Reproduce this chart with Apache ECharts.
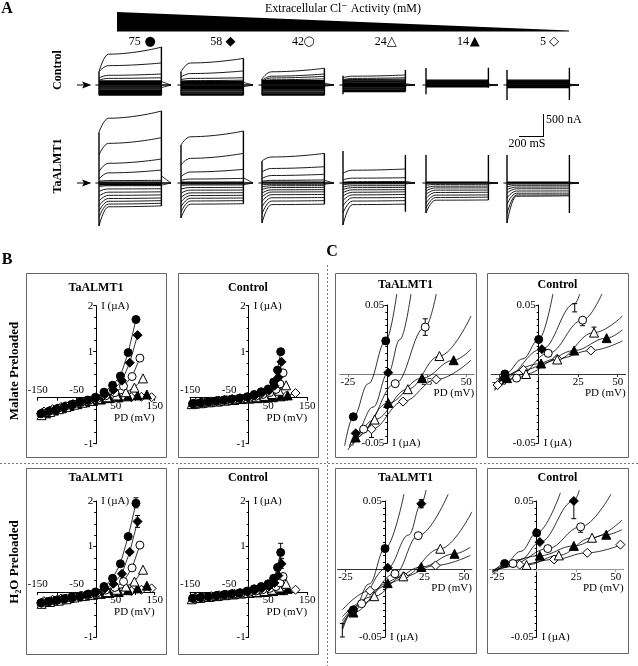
<!DOCTYPE html>
<html><head><meta charset="utf-8">
<script src="https://cdn.jsdelivr.net/npm/echarts@6/dist/echarts.min.js"></script>
<style>html,body{margin:0;padding:0;background:#fff}#c{width:638px;height:666px}</style>
</head><body><div id="c"></div>
<script>
// ================= DATA =================
// Panel A : extracellular Cl- activities and their symbols
const concLabels = ['75', '58', '42', '24', '14', '5'];
const concSymbols = ['●', '◆', '○', '△', '▲', '◇'];

// Panel A traces (nA). Triple = [value at 0 ms, at 80 ms, at end of pulse]; single number = flat trace.
const traceTimes = [0, 80, 520];
const pulseEnd = 520, tailEnd = 600, leadStart = -30;

const ctl75 = [[300,700,860],[300,440,500],[160,220,250],[110,150,165],95,75,55,35,15,-5,-25,-45,-70,-95,-120,-145,-170,-195,-215,-230];
const ctl58 = [[300,500,605],[180,260,320],[120,150,165],[85,100,110],80,60,40,20,0,-20,-40,-60,-85,-110,-135,-160,-185,-210,-230];
const ctl42 = [[136,300,380],[100,200,250],[80,160,197],[70,120,140],100,80,60,40,20,0,-20,-40,-60,-85,-110,-135,-160,-185,-210,-230];
const ctl24 = [[165,200,227],[120,150,165],[100,125,135],110,90,70,50,30,10,-10,-30,-50,-70,-90,-110,-130,-150];
const ctl14 = [110,95,80,65,50,35,20,5,-10,-25,-40];
const ctl5  = [110,95,80,65,50,35,20,5,-10,-25,-40,-60];

const ta75 = [[1150,1470,1634],[636,900,1030],[257,447,545],[90,230,295],[40,55,60],20,0,-20,-40,[-80,-62,-60],[-190,-135,-130],[-300,-208,-200],[-410,-280,-270],[-520,-352,-340],[-640,-415,-400],[-780,-478,-460],[-976,-540,-520]];
const ta58 = [[863,1050,1180],[409,560,673],[143,250,310],[60,90,106],20,0,-20,[-60,-45,-45],[-140,-102,-100],[-230,-162,-160],[-330,-224,-220],[-430,-285,-280],[-540,-346,-340],[-660,-408,-400],[-795,-480,-470]];
const ta42 = [[500,590,673],[250,330,370],[100,170,197],[40,60,70],20,0,[-40,-30,-30],[-90,-62,-60],[-150,-103,-100],[-230,-155,-150],[-320,-205,-200],[-420,-265,-260],[-540,-335,-330],[-700,-410,-400],[-908,-490,-480]];
const ta24 = [[220,290,318],[70,110,120],[20,30,35],10,-5,[-40,-22,-20],[-90,-62,-60],[-150,-105,-100],[-220,-155,-150],[-300,-210,-200],[-400,-270,-260],[-520,-335,-330],[-680,-410,-400],[-953,-490,-480]];
const ta14 = [20,10,0,[-50,-32,-30],[-110,-72,-70],[-180,-112,-110],[-260,-162,-160],[-350,-215,-210],[-460,-275,-270],[-570,-330,-320],[-680,-390,-385]];
const ta5  = [20,10,0,[-40,-22,-20],[-90,-52,-50],[-150,-92,-90],[-230,-132,-130],[-340,-182,-180],[-480,-232,-230],[-700,-272,-270],[-908,-300,-290]];

// capacitive spikes [start up, start down, end up, end down] and tail wedge [hi, lo] (nA)
const ctlSpikes = [[0,0,0,0],[0,0,0,0],[0,0,0,0],[210,-210,340,-150],[385,-210,390,-60],[340,-340,390,-340]];
const taSpikes  = [[0,0,0,0],[0,0,0,0],[0,0,0,0],[726,-953,636,-650],[636,-680,636,-300],[636,-908,636,-680]];
const ctlTails = [[80,-60],[60,-40],[40,-30],[30,-20],[20,-20],[20,-20]];
const taTails  = [[160,-50],[120,-40],[60,-30],[40,-20],[20,-20],[20,-20]];

// Panel B : PD (mV) per concentration, TaALMT1 and Control oocytes
const pdTa75 = [-142,-122,-102,-82,-62,-42,-22,-2,20,42,62,82,102];
const pdTa58 = [-140,-120,-100,-80,-60,-40,-20,0,22,44,66,86,106];
const pdTa42 = [-138,-118,-98,-78,-58,-38,-18,2,24,48,70,92,112];
const pdTa24 = [-140,-118,-96,-76,-56,-36,-16,4,28,52,76,98,120];
const pdTa14 = [-128,-108,-88,-68,-48,-28,-8,12,34,58,82,106,130];
const pdTa5  = [-134,-112,-90,-68,-48,-28,-8,14,38,64,90,116,142];
const pdCt75 = [-144,-124,-104,-84,-64,-44,-24,-4,14,32,50,64,74,82];
const pdCt58 = [-142,-122,-102,-82,-62,-42,-22,-2,16,34,52,66,76,84];
const pdCt42 = [-140,-120,-100,-80,-60,-40,-20,0,18,36,54,70,80,88];
const pdCt24 = [-146,-124,-102,-82,-62,-42,-22,-2,20,40,60,78,96];
const pdCt14 = [-138,-118,-98,-78,-58,-38,-18,2,22,42,62,82,100];
const pdCt5  = [-136,-116,-96,-76,-56,-36,-16,4,26,48,72,96,120];
// Panel B : current (µA)
const iMalTa75 = [-0.35,-0.30,-0.25,-0.20,-0.15,-0.10,-0.05,0.01,0.12,0.27,0.47,0.98,1.70];
const iMalTa58 = [-0.34,-0.29,-0.24,-0.19,-0.14,-0.10,-0.06,-0.01,0.07,0.17,0.37,0.76,1.36];
const iMalTa42 = [-0.33,-0.28,-0.23,-0.18,-0.14,-0.10,-0.06,-0.02,0.04,0.11,0.25,0.46,0.86];
const iMalTa24 = [-0.38,-0.31,-0.25,-0.20,-0.15,-0.11,-0.07,-0.03,0.01,0.05,0.12,0.22,0.42];
const iMalTa14 = [-0.34,-0.28,-0.23,-0.18,-0.14,-0.10,-0.07,-0.04,-0.01,0.01,0.03,0.05,0.07];
const iMalTa5  = [-0.30,-0.25,-0.20,-0.16,-0.12,-0.09,-0.06,-0.04,-0.02,0.00,0.01,0.02,0.01];
const iMalCt75 = [-0.13,-0.11,-0.09,-0.07,-0.05,-0.03,-0.01,0.02,0.07,0.13,0.19,0.34,0.60,1.00];
const iMalCt58 = [-0.13,-0.11,-0.09,-0.07,-0.05,-0.03,-0.01,0.01,0.05,0.10,0.15,0.26,0.44,0.78];
const iMalCt42 = [-0.13,-0.11,-0.09,-0.07,-0.05,-0.04,-0.02,0.00,0.03,0.07,0.11,0.18,0.30,0.54];
const iMalCt24 = [-0.14,-0.12,-0.10,-0.08,-0.06,-0.04,-0.02,-0.01,0.01,0.04,0.08,0.15,0.27];
const iMalCt14 = [-0.13,-0.11,-0.09,-0.08,-0.06,-0.05,-0.03,-0.02,-0.01,0.00,0.01,0.03,0.05];
const iMalCt5  = [-0.11,-0.09,-0.08,-0.06,-0.05,-0.04,-0.02,-0.01,0.00,0.01,0.02,0.04,0.10];
const iH2oTa75 = [-0.24,-0.21,-0.18,-0.15,-0.12,-0.09,-0.05,0.00,0.12,0.30,0.62,1.22,1.95];
const iH2oTa58 = [-0.24,-0.21,-0.18,-0.15,-0.12,-0.09,-0.05,-0.01,0.07,0.18,0.40,0.88,1.55];
const iH2oTa42 = [-0.23,-0.20,-0.17,-0.14,-0.11,-0.08,-0.05,-0.02,0.04,0.10,0.23,0.53,1.03];
const iH2oTa24 = [-0.26,-0.22,-0.19,-0.16,-0.12,-0.09,-0.06,-0.03,0.00,0.05,0.12,0.23,0.49];
const iH2oTa14 = [-0.22,-0.19,-0.16,-0.13,-0.10,-0.08,-0.06,-0.04,-0.02,0.00,0.04,0.08,0.14];
const iH2oTa5  = [-0.20,-0.17,-0.14,-0.12,-0.10,-0.08,-0.06,-0.04,-0.02,0.00,0.02,0.05,0.08];
const iH2oCt75 = [-0.14,-0.12,-0.10,-0.08,-0.06,-0.04,-0.02,0.02,0.07,0.12,0.18,0.30,0.54,0.87];
const iH2oCt58 = [-0.14,-0.12,-0.10,-0.08,-0.06,-0.04,-0.02,0.00,0.04,0.08,0.12,0.20,0.36,0.62];
const iH2oCt42 = [-0.14,-0.12,-0.10,-0.08,-0.06,-0.05,-0.03,-0.01,0.02,0.05,0.08,0.12,0.20,0.34];
const iH2oCt24 = [-0.16,-0.13,-0.11,-0.09,-0.07,-0.05,-0.03,-0.02,0.00,0.02,0.05,0.10,0.18];
const iH2oCt14 = [-0.13,-0.11,-0.10,-0.08,-0.06,-0.05,-0.03,-0.02,-0.01,0.00,0.02,0.04,0.07];
const iH2oCt5  = [-0.12,-0.10,-0.09,-0.07,-0.06,-0.04,-0.03,-0.01,0.00,0.01,0.02,0.03,0.05];
// Panel B : error bars [PD, low, high] (µA)
const errBMalTa = [];
const errBMalCt = [];
const errBH2oTa = [[102,1.85,2.07],[106,1.42,1.68]];
const errBH2oCt = [[82,0.70,1.07],[84,0.52,0.74]];

// Panel C : measured points [PD mV, I µA] per concentration (75,58,42,24,14,5)
const cMalTaPts = [
  [[-21.5,-0.031],[-1,0.024]],
  [[-20,-0.043],[0.6,0.001]],
  [[-15,-0.040],[5,-0.007],[24,0.034]],
  [[-8,-0.033],[13,-0.011],[33,0.013]],
  [[-20,-0.046],[0.6,-0.021],[22,-0.003],[42,0.010]],
  [[-10,-0.040],[10,-0.020],[31,-0.004]]];
const cMalCtPts = [
  [[-21.4,0.0],[0,0.025]],
  [[-22,-0.003],[2,0.018],[22.8,0.051]],
  [[-14,-0.003],[6,0.015],[27.8,0.039]],
  [[-8,0.0],[11.7,0.0105],[35,0.030]],
  [[-20,-0.003],[1.5,0.0076],[22.4,0.017],[43,0.026]],
  [[-26,-0.008],[-9.6,0.003],[11.7,0.011],[33,0.017]]];
const cH2oTaPts = [
  [[-20,-0.030],[0,0.015]],
  [[-21,-0.031],[1.7,0.001],[23,0.048]],
  [[-14.8,-0.0255],[6.3,-0.0035],[21,0.0245]],
  [[-6.8,-0.020],[11.6,-0.0054],[35,0.0149]],
  [[-20,-0.032],[1.7,-0.0104],[23,0.0015],[44,0.0112]],
  [[-9.5,-0.016],[12,-0.0054],[32,0.0026]]];
const cH2oCtPts = [
  [[-20.3,0.004],[0,0.0265]],
  [[2,0.0198],[23.5,0.050]],
  [[-15,0.004],[7,0.015],[27.8,0.031]],
  [[-6.4,0.003],[14,0.010],[35,0.023]],
  [[2,0.0098],[23.5,0.017],[44,0.0252]],
  [[-10.8,0.0032],[11,0.007],[32,0.0119],[53,0.0179]]];
// Panel C : fitted curves
const cMalTaFit = [
  [[-27,-0.052],[-21.5,-0.031],[-12,-0.007],[-1,0.024],[6,0.058]],
  [[-24,-0.053],[-20,-0.043],[-9,-0.024],[0.6,0.001],[8,0.025],[15,0.058]],
  [[-22,-0.050],[-15,-0.040],[5,-0.007],[24,0.034],[31,0.058]],
  [[-22,-0.052],[-8,-0.033],[13,-0.011],[33,0.013],[53,0.042]],
  [[-24,-0.052],[-20,-0.046],[0.6,-0.021],[22,-0.003],[42,0.010],[53,0.018]],
  [[-25,-0.055],[-10,-0.040],[10,-0.020],[31,-0.004],[53,0.010]]];
const cMalCtFit = [
  [[-28,-0.009],[-21.4,0.0],[-10,0.011],[0,0.025],[9,0.058]],
  [[-28,-0.011],[-22,-0.003],[2,0.018],[22.8,0.051],[26,0.058]],
  [[-28,-0.012],[-14,-0.003],[6,0.015],[27.8,0.039],[40,0.058]],
  [[-28,-0.011],[-8,0.0],[11.7,0.0105],[35,0.030],[53,0.042]],
  [[-28,-0.008],[1.5,0.0076],[22.4,0.017],[43,0.026],[53,0.032]],
  [[-28,-0.009],[-9.6,0.003],[11.7,0.011],[33,0.017],[53,0.024]]];
const cH2oTaFit = [
  [[-27,-0.045],[-20,-0.030],[-10,-0.011],[0,0.015],[12,0.055]],
  [[-27,-0.043],[-21,-0.031],[1.7,0.001],[15,0.025],[23,0.048],[26,0.058]],
  [[-27,-0.038],[-14.8,-0.0255],[6.3,-0.0035],[21,0.0245],[40,0.055]],
  [[-27,-0.035],[-6.8,-0.020],[11.6,-0.0054],[35,0.0149],[55,0.042]],
  [[-27,-0.040],[-20,-0.032],[1.7,-0.0104],[23,0.0015],[44,0.0112],[54,0.016]],
  [[-27,-0.030],[-9.5,-0.016],[12,-0.0054],[32,0.0026],[54,0.010]]];
const cH2oCtFit = [
  [[-28,-0.003],[-20.3,0.004],[-10,0.013],[0,0.0265],[15,0.056]],
  [[-28,-0.004],[-10,0.007],[2,0.0198],[23.5,0.050],[27,0.058]],
  [[-28,-0.001],[-15,0.004],[7,0.015],[27.8,0.031],[47,0.055]],
  [[-28,-0.001],[-6.4,0.003],[14,0.010],[35,0.023],[54,0.036]],
  [[-28,-0.002],[2,0.0098],[23.5,0.017],[44,0.0252],[54,0.029]],
  [[-28,-0.002],[-10.8,0.0032],[11,0.007],[32,0.0119],[54,0.018]]];
// Panel C : error bars [PD, low, high] (µA)
const errCMalTa = [[24,0.028,0.040],[-10,-0.046,-0.040]];
const errCMalCt = [[22.8,0.045,0.051],[27.8,0.035,0.039],[35,0.030,0.034]];
const errCH2oTa = [[23,0.045,0.051],[-27,-0.050,-0.040]];
const errCH2oCt = [[23.5,0.037,0.050],[27.8,0.027,0.031]];

// ================= BUILD =================
const FONT = "'Liberation Serif','DejaVu Serif',serif";
const SYMFONT = "'DejaVu Sans',sans-serif";
const grids = [], xAxes = [], yAxes = [], series = [], G = [];
const BLACK = '#000';

function addGrid(g, x, y) {
  grids.push(g);
  const gi = grids.length - 1;
  xAxes.push(Object.assign({gridIndex: gi, type: 'value', splitLine: {show: false}}, x));
  yAxes.push(Object.assign({gridIndex: gi, type: 'value', splitLine: {show: false}}, y));
  return {xi: xAxes.length - 1, yi: yAxes.length - 1};
}
function line(ax, data, extra) {
  series.push(Object.assign({type: 'line', xAxisIndex: ax.xi, yAxisIndex: ax.yi, data, symbol: 'none',
    silent: true, clip: false, animation: false, lineStyle: {color: BLACK, width: 0.8}}, extra || {}));
}
function errBars(ax, data) {
  if (!data.length) return;
  series.push({type: 'custom', xAxisIndex: ax.xi, yAxisIndex: ax.yi, silent: true, animation: false, z: 2, clip: false,
    data, encode: {x: 0, y: [1, 2]},
    renderItem: (params, api) => {
      const x = api.value(0);
      const lo = api.coord([x, api.value(1)]), hi = api.coord([x, api.value(2)]);
      const w = 2.5, st = {stroke: BLACK, lineWidth: 1};
      return {type: 'group', children: [
        {type: 'line', shape: {x1: lo[0], y1: lo[1], x2: hi[0], y2: hi[1]}, style: st},
        {type: 'line', shape: {x1: lo[0] - w, y1: lo[1], x2: lo[0] + w, y2: lo[1]}, style: st},
        {type: 'line', shape: {x1: hi[0] - w, y1: hi[1], x2: hi[0] + w, y2: hi[1]}, style: st}]};
    }});
}

// ---- Panel A ----
const colLeft = [99, 181, 262, 343, 426, 507];
const PX_PER_MS = 0.12, PX_PER_NA = 1 / 22.7;
const TY_MIN = -1000, TY_MAX = 1800;
function tracePanel(traces, spike, tail, x0, baseY) {
  const ax = addGrid({left: x0 + leadStart * PX_PER_MS, top: baseY - TY_MAX * PX_PER_NA,
      width: (tailEnd - leadStart) * PX_PER_MS, height: (TY_MAX - TY_MIN) * PX_PER_NA},
    {min: leadStart, max: tailEnd, show: false},
    {min: TY_MIN, max: TY_MAX, show: false});
  const starts = [], ends = [];
  traces.forEach(t => {
    if (Array.isArray(t)) {
      starts.push(t[0]); ends.push(t[2]);
      line(ax, traceTimes.map((tm, k) => [tm, t[k]]), {smooth: 0.5, smoothMonotone: 'x', lineStyle: {color: BLACK, width: 0.9}});
    } else {
      starts.push(t); ends.push(t);
      line(ax, [[0, t], [pulseEnd, t]], {lineStyle: {color: BLACK, width: 1.3}});
    }
  });
  line(ax, [[leadStart, 0], [0, 0]], {lineStyle: {color: BLACK, width: 1.2}});
  line(ax, [[0, Math.min(0, spike[1], ...starts)], [0, Math.max(0, spike[0], ...starts)]], {lineStyle: {color: BLACK, width: 1.4}});
  line(ax, [[pulseEnd, Math.min(0, spike[3], ...ends)], [pulseEnd, Math.max(0, spike[2], ...ends)]], {lineStyle: {color: BLACK, width: 1.4}});
  line(ax, [[pulseEnd, 0], [tailEnd, 0]], {lineStyle: {color: BLACK, width: 1.4}});
  line(ax, [[pulseEnd, tail[0]], [tailEnd, 0]]);
  line(ax, [[pulseEnd, tail[1]], [tailEnd, 0]]);
}
const ctlPanels = [ctl75, ctl58, ctl42, ctl24, ctl14, ctl5];
const taPanels = [ta75, ta58, ta42, ta24, ta14, ta5];
for (let c = 0; c < 6; c++) {
  tracePanel(ctlPanels[c], ctlSpikes[c], ctlTails[c], colLeft[c], 85);
  tracePanel(taPanels[c], taSpikes[c], taTails[c], colLeft[c], 183);
}

// ---- markers ----
const markDefs = [
  {symbol: 'circle', fill: '#000', size: 8},
  {symbol: 'diamond', fill: '#000', size: 9},
  {symbol: 'circle', fill: '#fff', size: 8},
  {symbol: 'triangle', fill: '#fff', size: 9},
  {symbol: 'triangle', fill: '#000', size: 9},
  {symbol: 'diamond', fill: '#fff', size: 9}];
const drawOrder = [5, 4, 3, 2, 1, 0];
const AXL = {color: BLACK, width: 1};
const LBL = {color: BLACK, fontFamily: FONT, fontSize: 11};

// Crossed axes: each axis lives in its own helper grid whose edge sits on the other axis' zero.
// ---- Panel B ----
function bPanel(yAxisX, zeroY, pxPerUA, pds, cur, errs) {
  const pxPerMV = 0.39;
  const L = yAxisX - 150 * pxPerMV, W = 300 * pxPerMV, T = zeroY - 2 * pxPerUA;
  addGrid({left: L, top: T, width: W, height: 2 * pxPerUA},
    {min: -150, max: 150, interval: 50, position: 'bottom',
     axisLine: {onZero: false, lineStyle: AXL},
     axisTick: {show: true, length: 3, lineStyle: AXL},
     axisLabel: Object.assign({interval: 0, margin: 3, formatter: v => (v === 50 || v === 150) ? String(v) : ''}, LBL),
     name: 'PD (mV)', nameLocation: 'end', nameGap: 0,
     nameTextStyle: Object.assign({align: 'right', verticalAlign: 'top', padding: [15, 0, 0, 0]}, LBL)},
    {min: 0, max: 2, show: false});
  addGrid({left: L, top: zeroY, width: W, height: pxPerUA},
    {min: -150, max: 150, interval: 50, position: 'top',
     axisLine: {onZero: false, lineStyle: AXL},
     axisTick: {show: false},
     axisLabel: Object.assign({interval: 0, margin: 2, formatter: v => (v === -150 || v === -50) ? String(v) : ''}, LBL)},
    {min: -1, max: 0, show: false});
  addGrid({left: yAxisX, top: T, width: 150 * pxPerMV, height: 3 * pxPerUA},
    {min: 0, max: 150, show: false},
    {min: -1, max: 2, interval: 1, position: 'left',
     axisLine: {show: true, onZero: false, lineStyle: AXL},
     axisTick: {show: true, length: 3, lineStyle: AXL},
     minorTick: {show: true, splitNumber: 4, length: 2, lineStyle: AXL},
     axisLabel: Object.assign({margin: 3, formatter: v => v === 0 ? '' : String(v)}, LBL),
     minorSplitLine: {show: false},
     name: 'I (µA)', nameLocation: 'end', nameGap: 0,
     nameTextStyle: Object.assign({align: 'left', verticalAlign: 'middle', padding: [0, 0, 0, 5]}, LBL)});
  const ax = addGrid({left: L, top: T, width: W, height: 3 * pxPerUA},
    {min: -150, max: 150, show: false}, {min: -1, max: 2, show: false});
  errBars(ax, errs);
  drawOrder.forEach(k => {
    const m = markDefs[k];
    series.push({type: 'line', xAxisIndex: ax.xi, yAxisIndex: ax.yi, silent: true, animation: false, clip: false,
      data: pds[k].map((p, j) => [p, cur[k][j]]),
      symbol: m.symbol, symbolSize: m.size, showAllSymbol: true,
      itemStyle: {color: m.fill, borderColor: BLACK, borderWidth: 1},
      lineStyle: {color: BLACK, width: 0.8}, z: 3});
  });
}
const pdTa = [pdTa75, pdTa58, pdTa42, pdTa24, pdTa14, pdTa5];
const pdCt = [pdCt75, pdCt58, pdCt42, pdCt24, pdCt14, pdCt5];
bPanel(96.2, 397.7, 46, pdTa, [iMalTa75, iMalTa58, iMalTa42, iMalTa24, iMalTa14, iMalTa5], errBMalTa);
bPanel(248.7, 397.7, 46, pdCt, [iMalCt75, iMalCt58, iMalCt42, iMalCt24, iMalCt14, iMalCt5], errBMalCt);
bPanel(96.2, 592, 45.5, pdTa, [iH2oTa75, iH2oTa58, iH2oTa42, iH2oTa24, iH2oTa14, iH2oTa5], errBH2oTa);
bPanel(248.7, 592, 45.5, pdCt, [iH2oCt75, iH2oCt58, iH2oCt42, iH2oCt24, iH2oCt14, iH2oCt5], errBH2oCt);

// ---- graphics / text helpers ----
function txt(x, y, text, o) {
  o = o || {};
  const al = o.align || 'center', va = o.va || 'middle';
  G.push({type: 'text', x, y, rotation: o.rot || 0, z: 100, silent: true,
    style: {text, fill: BLACK, font: o.font || ('12px ' + FONT), textAlign: al, textVerticalAlign: va, align: al, verticalAlign: va}});
}
function seg(x1, y1, x2, y2, o) {
  o = o || {};
  G.push({type: 'line', z: 100, silent: true, shape: {x1, y1, x2, y2},
    style: {stroke: o.stroke || BLACK, lineWidth: o.w || 1, lineDash: o.dash || null}});
}
function box(x, y, w, h) {
  G.push({type: 'rect', z: 99, silent: true, shape: {x: x + 0.5, y: y + 0.5, width: w, height: h},
    style: {fill: 'rgba(0,0,0,0)', stroke: '#666', lineWidth: 1}});
}
const boldF = s => 'bold ' + s + 'px ' + FONT;

// ---- Panel C ----
const labelsC = [-25, 25, 50];
function cPanel(yAxisX, zeroY, pxPer005, pts, fits, errs, xColor) {
  const pxPerMV = 1.58;
  const L = yAxisX - 30 * pxPerMV, W = 85 * pxPerMV, T = zeroY - pxPer005;
  const XL = {color: xColor, width: 1};
  addGrid({left: L, top: T, width: W, height: pxPer005},
    {min: -30, max: 55, interval: 5, position: 'bottom',
     axisLine: {onZero: false, lineStyle: XL},
     axisTick: {show: true, length: 3, lineStyle: XL, customValues: [-25, 0, 25, 50]},
     axisLabel: Object.assign({margin: 3, customValues: labelsC,
       formatter: v => (labelsC.indexOf(Math.round(v)) >= 0 ? String(Math.round(v)) : '')}, LBL),
     name: 'PD (mV)', nameLocation: 'end', nameGap: 0,
     nameTextStyle: Object.assign({align: 'right', verticalAlign: 'top', padding: [14, 0, 0, 0]}, LBL)},
    {min: 0, max: 0.05, show: false});
  addGrid({left: yAxisX, top: T, width: 55 * pxPerMV, height: 2 * pxPer005},
    {min: 0, max: 55, show: false},
    {min: -0.05, max: 0.05, interval: 0.05, position: 'left',
     axisLine: {show: true, onZero: false, lineStyle: AXL},
     axisTick: {show: true, length: 3, lineStyle: AXL},
     minorTick: {show: true, splitNumber: 10, length: 2, lineStyle: AXL},
     axisLabel: Object.assign({margin: 3, formatter: v => v > 0.01 ? '0.05' : (v < -0.01 ? '-0.05' : '')}, LBL),
     minorSplitLine: {show: false}});
  const ax = addGrid({left: L, top: T, width: W, height: 2 * pxPer005},
    {min: -30, max: 55, show: false}, {min: -0.05, max: 0.05, show: false});
  drawOrder.forEach(k => line(ax, fits[k], {smooth: 0.4, smoothMonotone: 'x', z: 2}));
  errBars(ax, errs);
  drawOrder.forEach(k => {
    const m = markDefs[k];
    series.push({type: 'scatter', xAxisIndex: ax.xi, yAxisIndex: ax.yi, silent: true, animation: false,
      data: pts[k], symbol: m.symbol, symbolSize: m.size,
      itemStyle: {color: m.fill, borderColor: BLACK, borderWidth: 1, opacity: 1}, z: 3});
  });
  txt(yAxisX + 5, zeroY + pxPer005, 'I (µA)', {align: 'left', font: '11px ' + FONT});
}
cPanel(387.3, 374, 69, cMalTaPts, cMalTaFit, errCMalTa, '#777');
cPanel(538.7, 374, 69, cMalCtPts, cMalCtFit, errCMalCt, '#333');
cPanel(385, 569, 68, cH2oTaPts, cH2oTaFit, errCH2oTa, '#333');
cPanel(536.7, 569, 68, cH2oCtPts, cH2oCtFit, errCH2oCt, '#999');

// ---- figure text and decorations ----
txt(7, 9, 'A', {font: boldF(16)});
txt(343, 9, 'Extracellular Cl⁻ Activity (mM)', {font: '12px ' + FONT});
G.push({type: 'polygon', z: 100, silent: true, shape: {points: [[117, 12], [569, 30.5], [569, 31.5], [117, 31.5]]}, style: {fill: BLACK}});
const numX = [134.7, 216.3, 298, 380.8, 463, 543];
const symX = [150.2, 230.6, 309, 391.8, 474.7, 554];
for (let c = 0; c < 6; c++) {
  txt(numX[c], 42, concLabels[c], {font: '12px ' + FONT});
  txt(symX[c], 42, concSymbols[c], {font: '13px ' + SYMFONT});
}
txt(58, 70, 'Control', {rot: Math.PI / 2, font: boldF(12)});
txt(58, 166, 'TaALMT1', {rot: Math.PI / 2, font: boldF(12)});
[85, 183].forEach(y => {
  seg(77, y, 84, y);
  G.push({type: 'polygon', z: 100, silent: true, shape: {points: [[82, y - 3.5], [91.5, y], [82, y + 3.5], [84, y]]}, style: {fill: BLACK}});
});
seg(543.5, 114, 543.5, 136);
seg(519, 136.5, 544, 136.5);
txt(546, 120, '500 nA', {align: 'left', font: '12px ' + FONT});
txt(527, 143.5, '200 mS', {font: '12px ' + FONT});

txt(7, 260, 'B', {font: boldF(16)});
txt(332, 252, 'C', {font: boldF(16)});
txt(15, 371, 'Malate Preloaded', {rot: Math.PI / 2, font: boldF(13)});
txt(15, 562, 'H₂O Preloaded', {rot: Math.PI / 2, font: boldF(13)});

box(26, 273, 140, 184); box(178, 273, 140, 184);
box(26, 468, 140, 186); box(178, 468, 140, 186);
box(335, 273, 141, 184); box(487, 273, 141, 184);
box(335, 468, 141, 185); box(487, 468, 141, 185);
const titleF = boldF(12);
txt(96, 288, 'TaALMT1', {font: titleF}); txt(248, 288, 'Control', {font: titleF});
txt(96, 478, 'TaALMT1', {font: titleF}); txt(248, 478, 'Control', {font: titleF});
txt(405.5, 285, 'TaALMT1', {font: titleF}); txt(557.5, 285, 'Control', {font: titleF});
txt(405.5, 478, 'TaALMT1', {font: titleF}); txt(557.5, 478, 'Control', {font: titleF});

seg(327.5, 265, 327.5, 666, {stroke: '#777', dash: [2, 2]});
seg(0, 463.5, 638, 463.5, {stroke: '#777', dash: [2, 2]});

const chart = echarts.init(document.getElementById('c'), null, {renderer: 'canvas'});
chart.setOption({
  animation: false,
  backgroundColor: '#fff',
  textStyle: {fontFamily: FONT},
  grid: grids, xAxis: xAxes, yAxis: yAxes, series,
  graphic: G
});
</script>
</body></html>
